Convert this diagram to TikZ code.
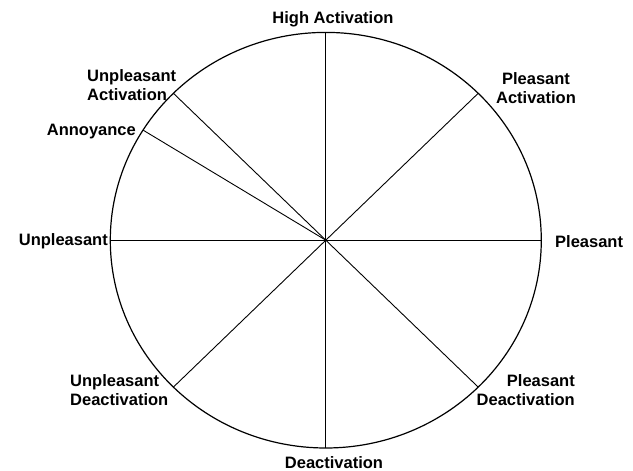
\documentclass[tikz,border=0pt]{standalone}
\usepackage{fontspec}
\setmainfont{Liberation Sans}
\begin{document}
\begin{tikzpicture}[x=1pt,y=-1pt,
  rim/.style={line width=1.2pt},
  spoke/.style={line width=0.9pt},
  lbl/.style={font=\bfseries\fontsize{16.5}{19}\selectfont, inner sep=0pt}]
\useasboundingbox (0,0) rectangle (633,471);
% centre of the affect circle
\coordinate (O) at (325.8,240.2);
% points on the rim
\coordinate (top) at (325.8,32.4);
\coordinate (bot) at (325.8,448);
\coordinate (lft) at (110.3,240.2);
\coordinate (rgt) at (541.3,240.2);
\coordinate (pa) at (478.2,93.3);
\coordinate (pd) at (478.2,387.1);
\coordinate (ud) at (173.4,387.1);
\coordinate (ua) at (173.4,93.3);
\coordinate (an) at (143.05,130.1);
% rim
\draw[rim] (O) ellipse [x radius=215.5, y radius=207.8];
% spokes
\foreach \p in {top,bot,lft,rgt,pa,pd,ud,ua,an}
  \draw[spoke] (O) -- (\p);
% labels
\node[lbl] (hi) at (333,19.5) {High Activation};
\node[lbl] (de) at (334,462.3) {Deactivation};
\node[lbl, anchor=west] (pl) at (555,241.5) {Pleasant};
\node[lbl, anchor=east] (up) at (108,241.5) {Unpleasant};
\node[lbl, anchor=east] (ann) at (136,131.5) {Annoyance};
\node[lbl, anchor=west, align=left] (upa) at (87,85) {Unpleasant\\Activation};
\node[lbl, align=center] (pla) at (536,88) {Pleasant\\Activation};
\node[lbl, anchor=east, align=right] (pld) at (575,390) {Pleasant\\Deactivation};
\node[lbl, anchor=west, align=left] (upd) at (70,390) {Unpleasant\\Deactivation};
\end{tikzpicture}
\end{document}
